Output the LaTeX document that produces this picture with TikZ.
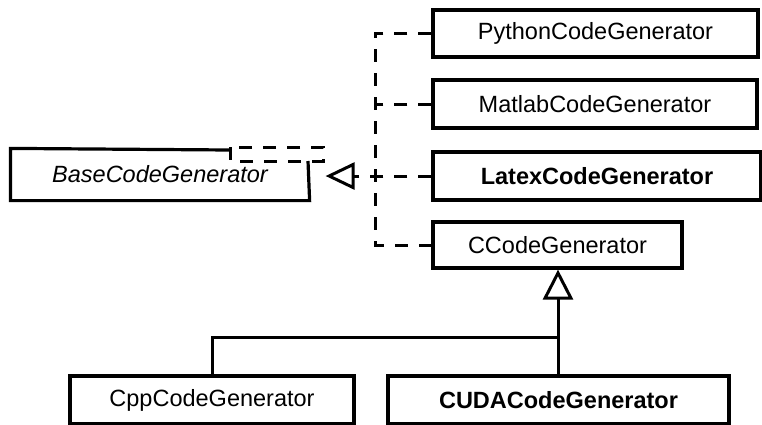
\documentclass[tikz,border=0pt]{standalone}
\usepackage{fontspec}
\setmainfont{Liberation Sans}
\usepackage{tikz}
\usetikzlibrary{arrows.meta}
\tikzset{
    cls/.style={rectangle, draw, line width=3.2pt, inner sep=0pt, font=\fontsize{23.5}{27}\selectfont},
    clsbold/.style={cls, font=\fontsize{23.5}{27}\selectfont\bfseries},
    realize/.style={line width=3pt, dash pattern=on 13pt off 11pt, -{Triangle[open, length=29pt, width=27pt, line width=3pt]}},
    dashline/.style={line width=3pt, dash pattern=on 13pt off 11pt},
    gen/.style={line width=3pt, -{Triangle[open, length=30pt, width=30pt, line width=3pt]}},
    plain/.style={line width=3pt}
}
\begin{document}
\begin{tikzpicture}[x=1pt, y=-1pt]
\useasboundingbox (0,0) rectangle (762,424);

% Base class (top border partly replaced by dashed box)
\node[cls, draw=none, minimum width=296pt, minimum height=49pt] (base) at (160,174.5) {\itshape BaseCodeGenerator};
\draw[line width=3.2pt] (230,150) -- (base.north west) -- (base.south west) -- (base.south east) -- (308,161);
\draw[dashline] (230,147) rectangle (323,161);

% Derived generators
\node[cls, minimum width=325pt, minimum height=47pt] (python) at (595.5,33.5) {PythonCodeGenerator};
\node[cls, minimum width=324pt, minimum height=48pt] (matlab) at (595,104) {MatlabCodeGenerator};
\node[clsbold, minimum width=328pt, minimum height=48pt] (latex) at (597,176) {LatexCodeGenerator};
\node[cls, minimum width=249pt, minimum height=46pt] (ccode) at (557.5,245) {CCodeGenerator};

% C subclasses
\node[cls, minimum width=284pt, minimum height=48pt] (cpp) at (212,400) {CppCodeGenerator};
\node[clsbold, minimum width=341pt, minimum height=48pt] (cuda) at (558.5,400) {CUDACodeGenerator};

% Realization spine
\coordinate (spine) at (375,0);
\draw[dashline] (python.west) -- (python.west -| spine) -- (ccode.west -| spine) -- (ccode.west);
\draw[dashline] (matlab.west) -- (matlab.west -| spine);
\draw[realize, shorten >=16pt] (latex.west) -- (latex.west -| base.east);

% Inheritance from CCodeGenerator
\coordinate (join) at (558,337);
\draw[gen] (cpp.north) |- (join) -- (join |- ccode.south);
\draw[plain] (cuda.north -| join) -- (join);
\end{tikzpicture}
\end{document}
